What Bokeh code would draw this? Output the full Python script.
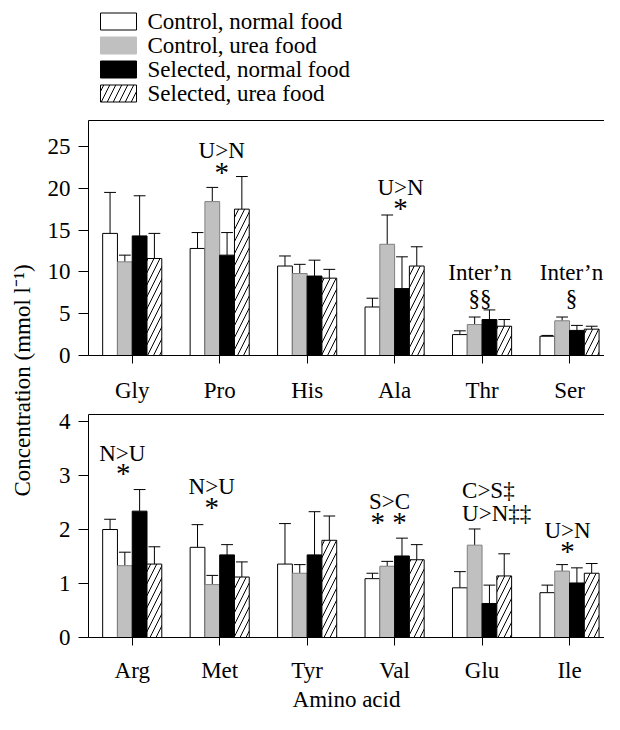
import numpy as np
from bokeh.plotting import figure
from bokeh.models import Range1d, FixedTicker, LinearAxis, Label, ColumnDataSource
from bokeh.layouts import row, column
from bokeh.embed import file_html
from bokeh.resources import INLINE
from bokeh.core.properties import value

FONT = "Liberation Serif"
FS = "23px"
FS_STAR = "29px"

# ---------------- data ----------------
series_names = ["Control, normal food", "Control, urea food",
                "Selected, normal food", "Selected, urea food"]

top_acids = ["Gly", "Pro", "His", "Ala", "Thr", "Ser"]
top_cn = [14.6, 12.8, 10.7, 5.8, 2.5, 2.3]
top_cu = [11.2, 18.4, 9.8, 13.3, 3.7, 4.15]
top_sn = [14.3, 12.0, 9.5, 8.0, 4.3, 3.0]
top_su = [11.6, 17.5, 9.25, 10.7, 3.5, 3.15]
top_cn_err = [4.9, 1.9, 1.2, 1.05, 0.45, 0.1]
top_cu_err = [0.8, 1.7, 1.1, 3.5, 0.9, 0.45]
top_sn_err = [4.8, 2.7, 1.9, 3.8, 1.15, 0.6]
top_su_err = [3.0, 3.9, 1.05, 2.3, 0.8, 0.35]
top_yticks = [0, 5, 10, 15, 20, 25]

bot_acids = ["Arg", "Met", "Tyr", "Val", "Glu", "Ile"]
bot_cn = [2.00, 1.67, 1.36, 1.09, 0.92, 0.83]
bot_cu = [1.33, 0.98, 1.19, 1.32, 1.71, 1.23]
bot_sn = [2.34, 1.53, 1.53, 1.51, 0.63, 1.01]
bot_su = [1.36, 1.12, 1.80, 1.44, 1.14, 1.19]
bot_cn_err = [0.19, 0.42, 0.75, 0.10, 0.30, 0.14]
bot_cu_err = [0.25, 0.17, 0.16, 0.09, 0.30, 0.12]
bot_sn_err = [0.40, 0.19, 0.80, 0.33, 0.34, 0.28]
bot_su_err = [0.32, 0.28, 0.45, 0.28, 0.41, 0.18]
bot_yticks = [0, 1, 2, 3, 4]

# significance annotations
top_notes_acid = ["Pro", "Pro", "Ala", "Ala", "Thr", "Thr", "Ser", "Ser"]
top_notes_y = [24.5, 22.0, 20.1, 17.6, 9.9, 6.8, 9.9, 6.8]
top_notes_text = ["U>N", "*", "U>N", "*", "Inter\u2019n", "\u00a7\u00a7", "Inter\u2019n", "\u00a7"]
top_notes_dx = [2, 2, 6, 6, -2, -2, 2, 2]
top_notes_align = ["center"] * 8

bot_notes_acid = ["Arg", "Arg", "Met", "Met", "Val", "Val", "Glu", "Glu", "Ile", "Ile"]
bot_notes_y = [3.41, 3.04, 2.79, 2.41, 2.52, 2.13, 2.73, 2.30, 1.98, 1.61]
bot_notes_text = ["N>U", "*", "N>U", "*", "S>C", "* *", "C>S\u2021", "U>N\u2021\u2021", "U>N", "*"]
bot_notes_dx = [-10, -9, -8, -8, -5, -6, -20, -20, -2, -2]
bot_notes_align = ["center"] * 6 + ["left", "left"] + ["center"] * 2

# ---------------- styles ----------------
fills = ["white", "#c0c0c0", "black", "white"]
lines = ["black", "#808080", "black", "black"]
hatches = [None, None, None, "/"]
BAR_W = 0.169
CAP_W = 0.135
offsets = [-1.5 * BAR_W, -0.5 * BAR_W, 0.5 * BAR_W, 1.5 * BAR_W]
YL_W = 40
COL_W = 604 - YL_W
LEFT = 48


def panel(acids, means, errs, yticks, y_end, x_end, height, bt, bb,
          n_acid, n_y, n_text, n_dx, n_align, standoff, xlabel=None):
    p = figure(width=COL_W, height=height, output_backend="svg", toolbar_location=None,
               x_range=Range1d(-0.5, x_end), y_range=Range1d(0, y_end),
               min_border_top=bt, min_border_bottom=bb, min_border_left=LEFT,
               min_border_right=0)
    p.outline_line_color = None
    p.grid.visible = False
    p.background_fill_color = "white"
    p.border_fill_color = "white"
    idx = np.arange(len(acids))
    for k in range(4):
        x = idx + offsets[k]
        m = np.array(means[k])
        e = np.array(errs[k])
        src = ColumnDataSource(dict(x=x, top=m, etop=m + e,
                                    x0=x - CAP_W / 2, x1=x + CAP_W / 2))
        p.segment(x0="x", y0="top", x1="x", y1="etop", source=src,
                  line_color="black", line_width=1)
        p.segment(x0="x0", y0="etop", x1="x1", y1="etop", source=src,
                  line_color="black", line_width=1)
        kw = dict(x="x", top="top", bottom=0, width=BAR_W, source=src,
                  fill_color=fills[k], line_color=lines[k], line_width=1)
        if hatches[k]:
            kw.update(hatch_pattern=hatches[k], hatch_color="black",
                      hatch_scale=12, hatch_weight=1)
        p.vbar(**kw)
    sizes = [FS_STAR if t.replace(" ", "") and set(t) <= {"*", " "} else FS for t in n_text]
    nsrc = ColumnDataSource(dict(x=[acids.index(a) for a in n_acid], y=n_y,
                                 text=n_text, dx=n_dx, align=n_align, size=sizes))
    p.text(x="x", y="y", text="text", x_offset="dx", source=nsrc,
           text_font=value(FONT), text_font_size="size", text_align="align",
           text_baseline="middle", text_color="black")

    xa = p.xaxis[0]
    xa.ticker = FixedTicker(ticks=list(range(len(acids))))
    xa.major_label_overrides = {i: a for i, a in enumerate(acids)}
    ya = p.yaxis[0]
    ya.ticker = FixedTicker(ticks=yticks)
    for ax in (xa, ya):
        ax.minor_tick_line_color = None
        ax.major_tick_in = 0
        ax.axis_line_color = "black"
        ax.major_tick_line_color = "black"
        ax.major_label_text_font = FONT
        ax.major_label_text_font_size = FS
        ax.major_label_text_color = "black"
    xa.major_tick_out = 8
    xa.major_label_standoff = standoff
    ya.major_tick_out = 10
    ya.major_label_standoff = 8
    if xlabel:
        xa.axis_label = xlabel
        xa.axis_label_text_font = FONT
        xa.axis_label_text_font_size = FS
        xa.axis_label_text_font_style = "normal"
        xa.axis_label_text_color = "black"
        xa.axis_label_standoff = 1
    topax = LinearAxis(ticker=FixedTicker(ticks=[]), axis_line_color="black",
                       major_tick_line_color=None, minor_tick_line_color=None,
                       major_tick_out=0, major_tick_in=0,
                       major_label_text_font_size="0px")
    p.add_layout(topax, "above")
    return p


top = panel(top_acids, [top_cn, top_cu, top_sn, top_su],
            [top_cn_err, top_cu_err, top_sn_err, top_su_err],
            top_yticks, 28.1, 5.4, 299, 14, 50,
            top_notes_acid, top_notes_y, top_notes_text, top_notes_dx, top_notes_align,
            standoff=14)
bot = panel(bot_acids, [bot_cn, bot_cu, bot_sn, bot_su],
            [bot_cn_err, bot_cu_err, bot_sn_err, bot_su_err],
            bot_yticks, 4.13, 5.4, 309, 9, 72,
            bot_notes_acid, bot_notes_y, bot_notes_text, bot_notes_dx, bot_notes_align,
            standoff=12, xlabel="Amino acid")

# ---------------- legend ----------------
LEG_H = 106
leg = figure(width=COL_W, height=LEG_H, output_backend="svg", toolbar_location=None,
             x_range=Range1d(0, COL_W - LEFT), y_range=Range1d(LEG_H, 0),
             x_axis_type=None, y_axis_type=None, min_border=0, min_border_left=LEFT)
leg.outline_line_color = None
leg.grid.visible = False
rows_y = [21, 45, 69, 93]
for k in range(4):
    kw = dict(x=30, y=rows_y[k], width=36, height=17, fill_color=fills[k],
              line_color=lines[k] if k != 1 else "#c0c0c0", line_width=1)
    if hatches[k]:
        kw.update(hatch_pattern=hatches[k], hatch_color="black", hatch_scale=12, hatch_weight=1)
    leg.rect(**kw)
leg.text(x=[59] * 4, y=rows_y, text=series_names, text_font=value(FONT),
         text_font_size=FS, text_baseline="middle", text_align="left", text_color="black")

# ---------------- shared y label ----------------
yl = figure(width=YL_W, height=714, output_backend="svg", toolbar_location=None,
            x_range=Range1d(0, YL_W), y_range=Range1d(714, 0),
            x_axis_type=None, y_axis_type=None, min_border=0)
yl.outline_line_color = None
yl.grid.visible = False
yl.add_layout(Label(x=22, y=380, text="Concentration (mmol l\u207b\u00b9)", angle=np.pi / 2,
                    text_font=FONT, text_font_size=FS, text_align="center",
                    text_baseline="middle", text_color="black"))

layout = row(yl, column(leg, top, bot))
open("out.html", "w").write(file_html(layout, INLINE))
